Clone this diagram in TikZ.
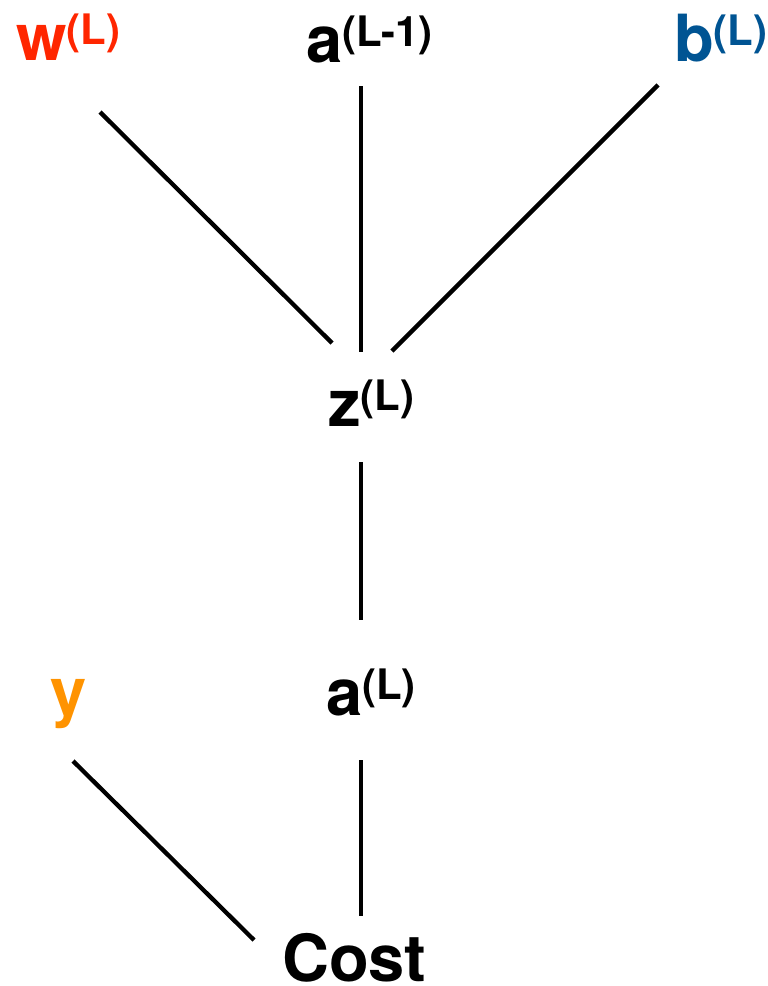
\documentclass[tikz,border=0pt]{standalone}
\usepackage{fontspec}
\setmainfont{TeX Gyre Heros}
\definecolor{wred}{HTML}{FF2600}
\definecolor{yorange}{HTML}{FF9300}
\definecolor{bblue}{HTML}{005493}
\newcommand{\supL}[1]{\raisebox{16pt}{\fontsize{42}{42}\selectfont #1}}
\tikzset{
  lbl/.style={inner sep=0pt, anchor=base west, font=\fontsize{65}{70}\selectfont\bfseries},
  conn/.style={line width=4.3pt, line cap=butt}
}
\begin{document}
\begin{tikzpicture}[x=1pt,y=-1pt]
\useasboundingbox (0,0) rectangle (768,986);
\node[lbl, text=wred] (w) at (16,60) {w\supL{(L)}};
\node[lbl] (aprev) at (306,62) {a\supL{(L-1)}};
\node[lbl, text=bblue] (b) at (674,61) {b\supL{(L)}};
\node[lbl] (z) at (328,426) {z\supL{(L)}};
\node[lbl, text=yorange] (y) at (50,714) {y};
\node[lbl] (aL) at (326,715) {a\supL{(L)}};
\node[lbl] (cost) at (282,981) {Cost};
% connector endpoints
\coordinate (w-s) at (100,112);
\coordinate (z-nw) at (332,343);
\coordinate (aprev-s) at (361,86);
\coordinate (z-n) at (361,352);
\coordinate (b-s) at (658,85);
\coordinate (z-ne) at (392,351);
\coordinate (z-s) at (361,462);
\coordinate (aL-n) at (361,620);
\coordinate (y-s) at (73,761);
\coordinate (cost-nw) at (254,940);
\coordinate (aL-s) at (361,760);
\coordinate (cost-n) at (361,916);
\draw[conn] (w-s) -- (z-nw);
\draw[conn] (aprev-s) -- (z-n);
\draw[conn] (b-s) -- (z-ne);
\draw[conn] (z-s) -- (aL-n);
\draw[conn] (y-s) -- (cost-nw);
\draw[conn] (aL-s) -- (cost-n);
\end{tikzpicture}
\end{document}
